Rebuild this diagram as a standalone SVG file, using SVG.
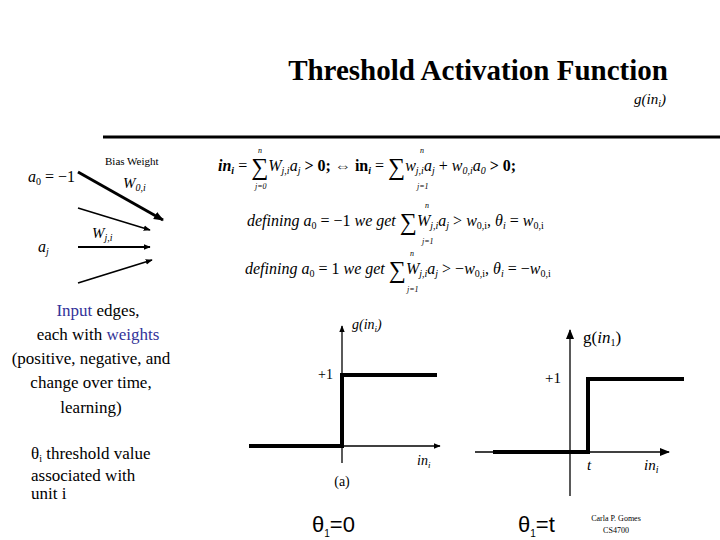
<svg xmlns="http://www.w3.org/2000/svg" width="720" height="540" viewBox="0 0 720 540">
<style>
.s{font-family:"Liberation Serif",serif;fill:#000}
.i{font-family:"Liberation Serif",serif;font-style:italic;fill:#000}
.ax{stroke:#000;stroke-width:1.3;fill:none}
.st{stroke:#000;stroke-width:4;fill:none}
.ar{stroke:#000;fill:none}
</style>
<defs>
<marker id="ah" viewBox="0 0 10 10" refX="9" refY="5" markerWidth="7" markerHeight="7" markerUnits="userSpaceOnUse" orient="auto"><path d="M0,1 L10,5 L0,9 z" fill="#000"/></marker>
<marker id="ah2" viewBox="0 0 10 10" refX="9" refY="5" markerWidth="10" markerHeight="10" markerUnits="userSpaceOnUse" orient="auto"><path d="M0,1 L10,5 L0,9 z" fill="#000"/></marker>
</defs>
<rect width="720" height="540" fill="#fff"/>
<g id="title">
<text class="s" x="478" y="80" font-size="29" font-weight="bold" text-anchor="middle">Threshold Activation Function</text>
<text class="i" x="634" y="104" font-size="15">g(in<tspan font-size="10" dy="3">i</tspan><tspan dy="-3">)</tspan></text>
<line x1="103" y1="137" x2="720" y2="137" stroke="#000" stroke-width="3"/>
</g>
<g id="unit">
<text class="i" x="28" y="182" font-size="16">a<tspan font-size="10" dy="3" font-style="normal">0</tspan><tspan dy="-3" font-style="normal"> = −1</tspan></text>
<text class="s" x="105" y="165" font-size="11">Bias Weight</text>
<text class="i" x="123" y="188" font-size="15">W<tspan font-size="10" dy="3">0,i</tspan></text>
<text class="i" x="92" y="238" font-size="15">W<tspan font-size="10" dy="3">j,i</tspan></text>
<text class="i" x="38" y="252" font-size="16">a<tspan font-size="10" dy="3">j</tspan></text>
</g>
<g id="connectors">
<line x1="78" y1="172" x2="163" y2="220" stroke="#000" stroke-width="3" marker-end="url(#ah2)"/>
<line class="ar" x1="78" y1="208" x2="150" y2="230" stroke-width="1.5" marker-end="url(#ah)"/>
<line class="ar" x1="78" y1="247" x2="150" y2="247" stroke-width="1.8" marker-end="url(#ah)"/>
<line class="ar" x1="78" y1="283" x2="152" y2="260" stroke-width="1.8" marker-end="url(#ah)"/>
</g>
<g id="equations" font-size="16">
<text class="i" x="218" y="171" font-weight="bold">in<tspan font-size="10" dy="3">i</tspan><tspan dy="-3" font-weight="normal" font-style="normal"> = </tspan><tspan font-size="24" font-style="normal" font-weight="normal" dy="4">∑</tspan><tspan dy="-4" font-weight="normal">W</tspan><tspan font-size="10" dy="3" font-weight="normal">j,i</tspan><tspan dy="-3" font-weight="normal">a</tspan><tspan font-size="10" dy="3" font-weight="normal">j</tspan><tspan dy="-3" font-style="normal"> &gt; 0; ⇔ in</tspan><tspan font-size="10" dy="3">i</tspan><tspan dy="-3" font-weight="normal" font-style="normal"> = </tspan><tspan font-size="24" font-style="normal" font-weight="normal" dy="4">∑</tspan><tspan dy="-4" font-weight="normal">w</tspan><tspan font-size="10" dy="3" font-weight="normal">j,i</tspan><tspan dy="-3" font-weight="normal">a</tspan><tspan font-size="10" dy="3" font-weight="normal">j</tspan><tspan dy="-3" font-weight="normal" font-style="normal"> + </tspan><tspan font-weight="normal">w</tspan><tspan font-size="10" dy="3" font-weight="normal">0,i</tspan><tspan dy="-3" font-weight="normal">a</tspan><tspan font-size="10" dy="3" font-weight="normal">0</tspan><tspan dy="-3" font-style="normal"> &gt; 0;</tspan></text>
<text class="i" x="258" y="153" font-size="8">n</text><text class="i" x="255" y="189" font-size="8">j=0</text>
<text class="i" x="420" y="153" font-size="8">n</text><text class="i" x="417" y="189" font-size="8">j=1</text>
<text class="i" x="247" y="226">defining a<tspan font-size="10" dy="3" font-style="normal">0</tspan><tspan dy="-3" font-style="normal"> = −1 </tspan>we get <tspan font-size="24" font-style="normal" dy="4">∑</tspan><tspan dy="-4">W</tspan><tspan font-size="10" dy="3">j,i</tspan><tspan dy="-3">a</tspan><tspan font-size="10" dy="3">j</tspan><tspan dy="-3" font-style="normal"> &gt; </tspan>w<tspan font-size="10" dy="3" font-style="normal">0,i</tspan><tspan dy="-3" font-style="normal">, </tspan>θ<tspan font-size="10" dy="3">i</tspan><tspan dy="-3" font-style="normal"> = </tspan>w<tspan font-size="10" dy="3" font-style="normal">0,i</tspan></text>
<text class="i" x="425" y="208" font-size="8">n</text><text class="i" x="422" y="244" font-size="8">j=1</text>
<text class="i" x="245" y="274">defining a<tspan font-size="10" dy="3" font-style="normal">0</tspan><tspan dy="-3" font-style="normal"> = 1 </tspan>we get <tspan font-size="24" font-style="normal" dy="4">∑</tspan><tspan dy="-4">W</tspan><tspan font-size="10" dy="3">j,i</tspan><tspan dy="-3">a</tspan><tspan font-size="10" dy="3">j</tspan><tspan dy="-3" font-style="normal"> &gt; −</tspan>w<tspan font-size="10" dy="3" font-style="normal">0,i</tspan><tspan dy="-3" font-style="normal">, </tspan>θ<tspan font-size="10" dy="3">i</tspan><tspan dy="-3" font-style="normal"> = −</tspan>w<tspan font-size="10" dy="3" font-style="normal">0,i</tspan></text>
<text class="i" x="410" y="256" font-size="8">n</text><text class="i" x="407" y="292" font-size="8">j=1</text>
</g>
<g id="notes" class="s" font-size="17" text-anchor="middle">
<text x="98" y="316"><tspan fill="#333399">Input</tspan> edges,</text>
<text x="98" y="340">each with <tspan fill="#333399">weights</tspan></text>
<text x="91" y="364">(positive, negative, and</text>
<text x="91" y="388">change over time,</text>
<text x="91" y="413">learning)</text>
</g>
<g id="theta-note" class="s" font-size="17">
<text x="31" y="459">θ<tspan font-size="10" dy="3">i</tspan><tspan dy="-3"> threshold value</tspan></text>
<text x="31" y="481">associated with</text>
<text x="31" y="499">unit i</text>
</g>
<g id="graph-a">
<line class="ax" x1="342" y1="463" x2="342" y2="326" marker-end="url(#ah)"/>
<line class="ax" x1="249" y1="446" x2="440" y2="446" marker-end="url(#ah)"/>
<polyline class="st" points="249,446 342,446 342,375 437,375"/>
<text class="s" x="318" y="379" font-size="14">+1</text>
<text class="i" x="352" y="329" font-size="14">g(in<tspan font-size="9" dy="3">i</tspan><tspan dy="-3">)</tspan></text>
<text class="i" x="417" y="465" font-size="14">in<tspan font-size="9" dy="3">i</tspan></text>
<text class="s" x="342" y="486" font-size="14" text-anchor="middle">(a)</text>
</g>
<g id="graph-b">
<line class="ax" x1="570" y1="496" x2="570" y2="330" marker-end="url(#ah2)"/>
<line class="ax" x1="475" y1="452" x2="669" y2="452" marker-end="url(#ah2)"/>
<polyline class="st" points="493,452 588,452 588,379 684,379"/>
<text class="s" x="545" y="383" font-size="15">+1</text>
<text class="s" x="583" y="343" font-size="17">g(<tspan font-style="italic">in</tspan><tspan font-size="10" dy="3">1</tspan><tspan dy="-3">)</tspan></text>
<text class="i" x="587" y="470" font-size="15">t</text>
<text class="i" x="644" y="470" font-size="15">in<tspan font-size="10" dy="3">i</tspan></text>
</g>
<g id="captions" font-family="Liberation Sans,sans-serif" font-size="22">
<text x="312" y="532">θ<tspan font-size="10" dy="5">1</tspan><tspan dy="-5">=0</tspan></text>
<text x="518" y="532">θ<tspan font-size="10" dy="5">1</tspan><tspan dy="-5">=t</tspan></text>
<text class="s" x="616" y="521" font-size="8" text-anchor="middle">Carla P. Gomes</text>
<text class="s" x="616" y="533" font-size="8" text-anchor="middle">CS4700</text>
</g>
</svg>
